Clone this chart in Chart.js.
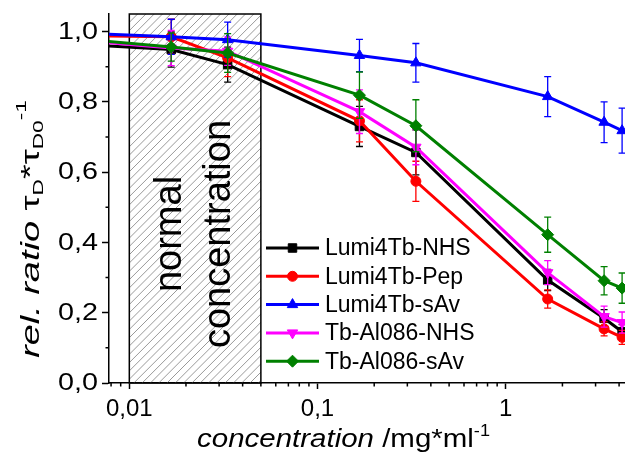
<!DOCTYPE html>
<html>
<head>
<meta charset="utf-8">
<script src="https://cdn.jsdelivr.net/npm/chart.js@4"></script>
<style>
  html, body { margin: 0; padding: 0; background: #fff; }
  #wrap { width: 625px; height: 453px; }
</style>
</head>
<body>
<div id="wrap"><canvas id="chart"></canvas></div>
<script>
// concentration in mg/ml (first point sits left of the visible axis)
const concentrations = [0.00333, 0.0167, 0.0333, 0.167, 0.333, 1.67, 3.33, 4.15];

const lumi4TbNHS = [0.970, 0.949, 0.906, 0.730, 0.656, 0.293, 0.184, 0.146];
const lumi4TbPep = [0.990, 0.985, 0.925, 0.746, 0.574, 0.239, 0.154, 0.130];
const lumi4TbSAv = [1.000, 0.985, 0.977, 0.932, 0.911, 0.815, 0.742, 0.718];
const tbAl086NHS = [0.985, 0.953, 0.944, 0.772, 0.671, 0.314, 0.189, 0.172];
const tbAl086SAv = [0.990, 0.956, 0.939, 0.819, 0.732, 0.422, 0.291, 0.270];

const errLumi4TbNHS = [0, 0.050, 0.050, 0.057, 0.064, 0.030, 0.025, 0.020];
const errLumi4TbPep = [0, 0.050, 0.053, 0.060, 0.057, 0.026, 0.020, 0.020];
const errLumi4TbSAv = [0, 0.050, 0.050, 0.046, 0.055, 0.057, 0.058, 0.064];
const errTbAl086NHS = [0, 0.050, 0.040, 0.062, 0.050, 0.034, 0.030, 0.030];
const errTbAl086SAv = [0, 0.040, 0.055, 0.066, 0.074, 0.050, 0.040, 0.043];

const seriesLabels = ['Lumi4Tb-NHS', 'Lumi4Tb-Pep', 'Lumi4Tb-sAv', 'Tb-Al086-NHS', 'Tb-Al086-sAv'];

const xTicks = [0.01, 0.1, 1];
const xTickLabels = ['0,01', '0,1', '1'];
const yTicks = [0, 0.2, 0.4, 0.6, 0.8, 1.0];
const yTickLabels = ['0,0', '0,2', '0,4', '0,6', '0,8', '1,0'];

// "normal concentration" band
const normalFrom = 0.01;
const normalTo = 0.05;

const FONT = "'Liberation Sans', Arial, sans-serif";

const values = [lumi4TbNHS, lumi4TbPep, lumi4TbSAv, tbAl086NHS, tbAl086SAv];
const errors = [errLumi4TbNHS, errLumi4TbPep, errLumi4TbSAv, errTbAl086NHS, errTbAl086SAv];
const colors = ['#000000', '#ff0000', '#0000ff', '#ff00ff', '#008000'];
const styles = ['rect', 'circle', 'triangle', 'triangle', 'rectRot'];
const rotations = [0, 0, 0, 180, 0];
const radii = [6, 5, 6, 6, 6];

const datasets = values.map((vals, i) => ({
  label: seriesLabels[i],
  data: concentrations.map((c, j) => ({ x: c, y: vals[j] })),
  borderColor: colors[i],
  backgroundColor: colors[i],
  borderWidth: 3,
  pointStyle: styles[i],
  pointRotation: rotations[i],
  pointRadius: radii[i],
  pointBorderWidth: 1,
  tension: 0,
  order: values.length - i
}));

// draws rich text pieces on one baseline, fitted to a given length
function drawParts(ctx, parts, x, y, length, align) {
  let total = 0;
  parts.forEach(p => { ctx.font = p.f + FONT; p.w = ctx.measureText(p.t).width; total += p.w; });
  const s = length / total;
  ctx.save();
  ctx.translate(x, y);
  ctx.scale(s, 1);
  let tx = align === 'center' ? -total / 2 : 0;
  ctx.textAlign = 'left';
  ctx.textBaseline = 'alphabetic';
  parts.forEach(p => {
    ctx.font = p.f + FONT;
    ctx.fillText(p.t, tx, p.dy);
    tx += p.w;
  });
  ctx.restore();
}

const decorPlugin = {
  id: 'decor',
  beforeDatasetsDraw(chart) {
    const { ctx, chartArea: a, scales: { x } } = chart;
    const x0 = x.getPixelForValue(normalFrom);
    const x1 = x.getPixelForValue(normalTo);
    ctx.save();
    ctx.beginPath();
    ctx.rect(x0, a.top, x1 - x0, a.bottom - a.top);
    ctx.clip();
    ctx.strokeStyle = '#999';
    ctx.lineWidth = 1;
    ctx.beginPath();
    const h = a.bottom - a.top;
    for (let s = x0 - h; s < x1 + h; s += 8.3) {
      ctx.moveTo(s, a.bottom);
      ctx.lineTo(s + h, a.top);
    }
    ctx.stroke();
    ctx.restore();

    ctx.save();
    ctx.strokeStyle = '#000';
    ctx.lineWidth = 1.5;
    ctx.strokeRect(x0, a.top, x1 - x0, a.bottom - a.top);
    ctx.fillStyle = '#000';
    ctx.font = '38px ' + FONT;
    ctx.textAlign = 'center';
    ctx.textBaseline = 'alphabetic';
    ctx.translate(x0 + 52, 234);
    ctx.rotate(-Math.PI / 2);
    ctx.fillText('normal', 0, 0);
    ctx.fillText('concentration', 0, 49);
    ctx.restore();
  },
  afterDatasetDraw(chart, args) {
    const { ctx, chartArea: a, scales: { x, y } } = chart;
    const i = args.index;
    ctx.save();
    ctx.beginPath();
    ctx.rect(a.left, a.top - 10, a.right - a.left + 5, a.bottom - a.top + 10);
    ctx.clip();
    ctx.strokeStyle = colors[i];
    ctx.lineWidth = 1.3;
    ctx.beginPath();
    concentrations.forEach((c, j) => {
      const e = errors[i][j];
      if (!e) return;
      const px = x.getPixelForValue(c);
      const yt = y.getPixelForValue(values[i][j] + e);
      const yb = y.getPixelForValue(values[i][j] - e);
      ctx.moveTo(px, yt); ctx.lineTo(px, yb);
      ctx.moveTo(px - 3.5, yt); ctx.lineTo(px + 3.5, yt);
      ctx.moveTo(px - 3.5, yb); ctx.lineTo(px + 3.5, yb);
    });
    ctx.stroke();
    ctx.restore();
  },
  afterDraw(chart) {
    const { ctx, chartArea: a, scales: { x, y } } = chart;
    ctx.save();
    ctx.strokeStyle = '#000';
    ctx.lineWidth = 1.5;
    ctx.beginPath();
    // minor ticks on x (log decades)
    for (let d = 0.001; d < 10; d *= 10) {
      for (let m = 2; m <= 9; m++) {
        const v = d * m;
        if (v < x.min || v > x.max) continue;
        const px = x.getPixelForValue(v);
        ctx.moveTo(px, a.bottom); ctx.lineTo(px, a.bottom + 3.5);
      }
    }
    // minor ticks on y
    for (let k = 0; k < yTicks.length - 1; k++) {
      const py = y.getPixelForValue((yTicks[k] + yTicks[k + 1]) / 2);
      ctx.moveTo(a.left, py); ctx.lineTo(a.left - 3.5, py);
    }
    ctx.stroke();

    // y tick labels, slightly wide face like the original
    ctx.fillStyle = '#000';
    ctx.font = '23px ' + FONT;
    ctx.textAlign = 'right';
    ctx.textBaseline = 'middle';
    yTicks.forEach((v, k) => {
      ctx.save();
      ctx.translate(a.left - 11, y.getPixelForValue(v) + 1);
      ctx.scale(1.25, 1);
      ctx.fillText(yTickLabels[k], 0, 0);
      ctx.restore();
    });

    // legend
    ctx.textBaseline = 'middle';
    ctx.textAlign = 'left';
    ctx.font = '23px ' + FONT;
    seriesLabels.forEach((lab, i) => {
      const ly = 248 + i * 28.3;
      ctx.strokeStyle = colors[i];
      ctx.lineWidth = 3;
      ctx.beginPath();
      ctx.moveTo(266, ly); ctx.lineTo(319, ly);
      ctx.stroke();
      ctx.fillStyle = colors[i];
      ctx.strokeStyle = colors[i];
      ctx.lineWidth = 1;
      Chart.helpers.drawPoint(ctx, { pointStyle: styles[i], rotation: rotations[i], radius: radii[i], borderWidth: 1 }, 292.5, ly);
      ctx.fillStyle = '#000';
      ctx.fillText(lab, 325, ly + 1);
    });

    // x title
    ctx.fillStyle = '#000';
    drawParts(ctx, [
      { t: 'concentration', f: 'italic 26px ', dy: 0 },
      { t: ' /mg*ml', f: '26px ', dy: 0 },
      { t: '-1', f: '16px ', dy: -11 }
    ], 197, 447, 293, 'left');

    // y title (rotated)
    ctx.save();
    ctx.translate(39, 229);
    ctx.rotate(-Math.PI / 2);
    drawParts(ctx, [
      { t: 'rel. ratio ', f: 'italic 25px ', dy: 0 },
      { t: '\u03c4', f: '25px ', dy: 0 },
      { t: 'D', f: '15px ', dy: 4 },
      { t: '*', f: '25px ', dy: 0 },
      { t: '\u03c4', f: '25px ', dy: 0 },
      { t: 'D0', f: '15px ', dy: 4 },
      { t: '-1', f: '15px ', dy: -13 }
    ], 0, 0, 258, 'center');
    ctx.restore();
    ctx.restore();
  }
};

new Chart(document.getElementById('chart'), {
  type: 'line',
  data: { datasets },
  options: {
    responsive: true,
    maintainAspectRatio: false,
    animation: false,
    layout: { autoPadding: false, padding: { top: 14, right: 0, left: 0, bottom: 0 } },
    plugins: { legend: { display: false }, tooltip: { enabled: false } },
    scales: {
      x: {
        type: 'logarithmic',
        min: 0.0078,
        max: 4.3,
        afterBuildTicks: s => { s.ticks = xTicks.map(v => ({ value: v })); },
        afterFit: s => { s.height = 70; },
        ticks: {
          color: '#000',
          font: { family: FONT, size: 24 },
          padding: 6,
          maxRotation: 0,
          callback: (v) => xTickLabels[xTicks.indexOf(v)] ?? ''
        },
        grid: { drawOnChartArea: false, drawTicks: true, tickLength: 6, tickColor: '#000', tickWidth: 1.5 },
        border: { color: '#000', width: 1.5 }
      },
      y: {
        min: 0,
        max: 1.05,
        afterBuildTicks: s => { s.ticks = yTicks.map(v => ({ value: v })); },
        afterFit: s => { s.width = 109; },
        ticks: { display: false },
        grid: { drawOnChartArea: false, drawTicks: true, tickLength: 7, tickColor: '#000', tickWidth: 1.5 },
        border: { color: '#000', width: 1.5 }
      }
    }
  },
  plugins: [decorPlugin]
});
</script>
</body>
</html>
